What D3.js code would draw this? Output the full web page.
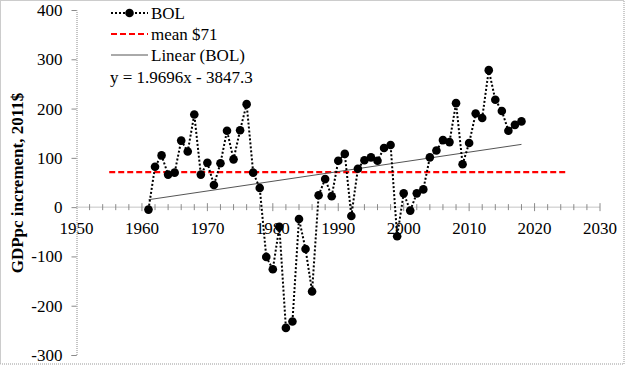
<!DOCTYPE html>
<html>
<head>
<meta charset="utf-8">
<script src="https://cdn.jsdelivr.net/npm/d3@7"></script>
<style>
  html, body { margin: 0; padding: 0; background: #fff; }
  svg { display: block; }
  svg text { font-family: "Liberation Serif", "DejaVu Serif", serif !important; }
</style>
</head>
<body>
<svg id="chart" width="625" height="365"></svg>
<script>
// ---- data ----
const years = [1961,1962,1963,1964,1965,1966,1967,1968,1969,1970,1971,1972,1973,1974,1975,1976,1977,1978,1979,1980,
  1981,1982,1983,1984,1985,1986,1987,1988,1989,1990,1991,1992,1993,1994,1995,1996,1997,1998,1999,2000,
  2001,2002,2003,2004,2005,2006,2007,2008,2009,2010,2011,2012,2013,2014,2015,2016,2017,2018];
const bolValues = [-5,82,105,66,70,135,113,188,66,90,45,89,155,97,156,209,70,39,-101,-126,
  -40,-245,-232,-24,-85,-171,24,57,22,94,108,-18,78,95,101,94,120,126,-59,28,
  -7,28,36,101,115,136,132,211,87,130,190,181,278,218,195,155,167,174];
const meanValue = 71;
const meanRange = [1955, 2025];
const trendSlope = 1.9696, trendIntercept = -3847.3;
const xTicks = [1950,1960,1970,1980,1990,2000,2010,2020,2030];
const yTicks = [400,300,200,100,0,-100,-200,-300];
const legendLabels = ["BOL", "mean $71", "Linear (BOL)"];
const equationLabel = "y = 1.9696x - 3847.3";
const yTitle = "GDPpc increment, 2011$";

// ---- layout ----
const svg = d3.select("#chart");
const x = d3.scaleLinear().domain([1950, 2030]).range([76.5, 600]);
const y = d3.scaleLinear().domain([-300, 400]).range([355, 10]);
const axisColor = "#8a8a8a";

// border
svg.append("rect").attr("x", 0.5).attr("y", 0.5).attr("width", 623.5).attr("height", 363.5)
  .attr("fill", "none").attr("stroke", "#999").attr("stroke-dasharray", "1,1");

// y axis
const yAxis = d3.axisLeft(y).tickValues(yTicks).tickSize(5).tickPadding(9).tickFormat(d => String(d));
const gy = svg.append("g").attr("transform", `translate(${x(1950)},0)`).call(yAxis)
  .attr("font-family", null).attr("font-size", null);
gy.select(".domain").attr("stroke", axisColor).attr("stroke-dasharray", "1,1");
gy.selectAll(".tick line").attr("stroke", axisColor);
gy.selectAll(".tick text").attr("font-size", 17).attr("fill", "#000");

// x axis at y=0, minor ticks every 2 years crossing
const gx = svg.append("g").attr("transform", `translate(0,${y(0)})`);
gx.append("line").attr("x1", x(1950)).attr("x2", x(2030)).attr("y1", 0).attr("y2", 0)
  .attr("stroke", axisColor).attr("stroke-dasharray", "1,1");
const minor = d3.range(1952, 2031, 2);
gx.selectAll("line.minor").data(minor).join("line").attr("class", "minor")
  .attr("x1", d => x(d)).attr("x2", d => x(d))
  .attr("y1", d => d % 10 === 0 ? -4 : -3).attr("y2", d => d % 10 === 0 ? 4 : 3)
  .attr("stroke", axisColor);
gx.selectAll("text").data(xTicks).join("text")
  .attr("x", d => x(d)).attr("y", 27)
  .attr("text-anchor", "middle").attr("font-size", 17).text(d => d);

// mean line
svg.append("line")
  .attr("x1", x(meanRange[0])).attr("x2", x(meanRange[1]))
  .attr("y1", y(meanValue)).attr("y2", y(meanValue))
  .attr("stroke", "#ff0000").attr("stroke-width", 2.2).attr("stroke-dasharray", "6,3");

// trend line
const tY = yr => trendSlope * yr + trendIntercept;
svg.append("line")
  .attr("x1", x(years[0])).attr("x2", x(years[years.length - 1]))
  .attr("y1", y(tY(years[0]))).attr("y2", y(tY(years[years.length - 1])))
  .attr("stroke", "#555").attr("stroke-width", 1);

// BOL series
const line = d3.line().x((d, i) => x(years[i])).y(d => y(d));
svg.append("path").datum(bolValues).attr("d", line)
  .attr("fill", "none").attr("stroke", "#000").attr("stroke-width", 2)
  .attr("stroke-dasharray", "2,2");
svg.selectAll("circle.pt").data(bolValues).join("circle").attr("class", "pt")
  .attr("cx", (d, i) => x(years[i])).attr("cy", d => y(d)).attr("r", 4.3).attr("fill", "#000");

// legend
const lg = svg.append("g");
const rowsY = [13, 34, 55];
const lx0 = 111, lx1 = 148;
lg.append("line").attr("x1", lx0).attr("x2", lx1).attr("y1", rowsY[0]).attr("y2", rowsY[0])
  .attr("stroke", "#000").attr("stroke-width", 2).attr("stroke-dasharray", "2,2");
lg.append("circle").attr("cx", (lx0 + lx1) / 2).attr("cy", rowsY[0]).attr("r", 4.3).attr("fill", "#000");
lg.append("line").attr("x1", lx0).attr("x2", lx1).attr("y1", rowsY[1]).attr("y2", rowsY[1])
  .attr("stroke", "#ff0000").attr("stroke-width", 2.2).attr("stroke-dasharray", "6,3");
lg.append("line").attr("x1", lx0).attr("x2", lx1).attr("y1", rowsY[2]).attr("y2", rowsY[2])
  .attr("stroke", "#555").attr("stroke-width", 1);
lg.selectAll("text.lab").data(legendLabels).join("text").attr("class", "lab")
  .attr("x", 151).attr("y", (d, i) => rowsY[i] + 6).attr("font-size", 17).text(d => d);
lg.append("text").attr("x", 110).attr("y", 83).attr("font-size", 17).text(equationLabel);

// y title
svg.append("text")
  .attr("transform", `translate(23,${183}) rotate(-90)`)
  .attr("text-anchor", "middle").attr("font-size", 17).attr("font-weight", "bold")
  .text(yTitle);
</script>
</body>
</html>
